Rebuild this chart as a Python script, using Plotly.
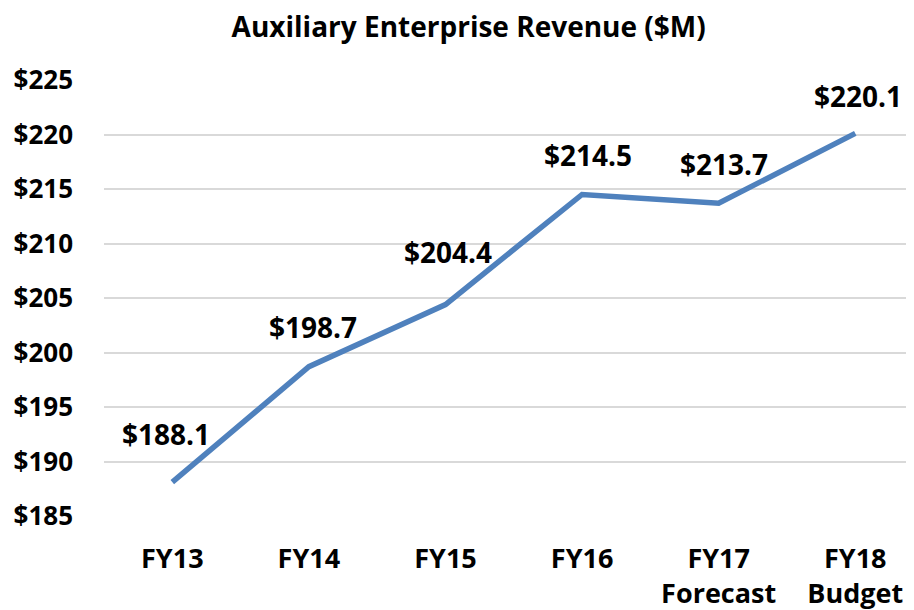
import plotly.graph_objects as go

# datos del grafico
years = ["FY13", "FY14", "FY15", "FY16", "FY17<br>Forecast", "FY18<br>Budget"]
revenue = [188.1, 198.7, 204.4, 214.5, 213.7, 220.1]
labels = ["$188.1", "$198.7", "$204.4", "$214.5", "$213.7", "$220.1"]
y_ticks = [185, 190, 195, 200, 205, 210, 215, 220, 225]

# desplazamiento (px) de cada etiqueta respecto a su punto
label_shift = [(-6, 48), (4, 40), (3, 53), (6, 39), (5, 39), (3, 37)]

FONT = "Open Sans"

fig = go.Figure()
fig.add_trace(go.Scatter(
    x=list(range(len(years))),
    y=revenue,
    mode="lines",
    line=dict(color="#4F81BD", width=5.5),
    hoverinfo="skip",
))

# etiquetas de valor encima de cada punto
for i, (v, t) in enumerate(zip(revenue, labels)):
    dx, dy = label_shift[i]
    fig.add_annotation(
        x=i, y=v, text="<b>%s</b>" % t, showarrow=False,
        xshift=dx, yshift=dy,
        font=dict(family=FONT, size=28, color="black"),
    )

# la pagina html tiene 8px de margen en el body, se compensa aqui
fig.update_layout(
    width=914, height=610,
    margin=dict(l=96, r=8, t=72, b=102),
    plot_bgcolor="white", paper_bgcolor="white",
    showlegend=False,
    title=dict(
        text="<b>Auxiliary Enterprise Revenue ($M)</b>",
        x=0.504, xanchor="center", y=0.968, yanchor="middle",
        font=dict(family=FONT, size=28, color="black"),
    ),
    xaxis=dict(
        tickmode="array",
        tickvals=list(range(len(years))),
        ticktext=["<b>%s</b>" % y for y in years],
        range=[-0.5, 5.43],
        showgrid=False, zeroline=False, showline=False,
        automargin=False, ticks="", ticklabelstandoff=24,
        tickfont=dict(family=FONT, size=27, color="black"),
    ),
    yaxis=dict(
        tickmode="array",
        tickvals=y_ticks,
        ticktext=["<b>$%d</b>" % v for v in y_ticks],
        range=[185, 225],
        showgrid=True, gridcolor="#D9D9D9", gridwidth=2,
        zeroline=False, showline=False,
        automargin=False, ticks="", ticklabelstandoff=30,
        tickfont=dict(family=FONT, size=26, color="black"),
    ),
)

fig.write_html("out.html")
